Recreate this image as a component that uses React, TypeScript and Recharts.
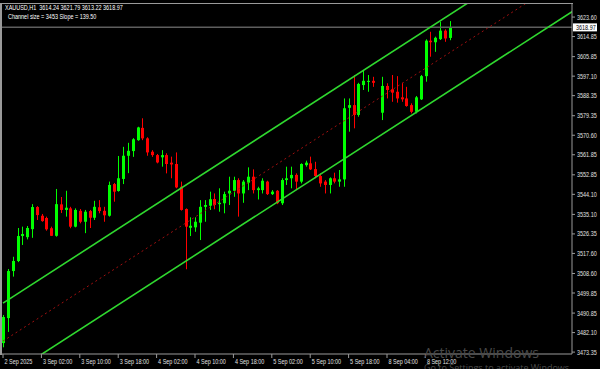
import React from 'react';
import { ComposedChart, Bar, XAxis, YAxis, ReferenceLine } from 'recharts';

// hourly bars, slot = position on the time axis (8 Sep 01:00 slot is empty)
const slots = [
  0, 1, 2, 3, 4, 5, 6, 7, 8, 9, 10, 11, 12, 13, 14, 15, 16, 17, 18, 19,
  20, 21, 22, 23, 24, 25, 26, 27, 28, 29, 30, 31, 32, 33, 34, 35, 36, 37, 38, 39,
  40, 41, 42, 43, 44, 45, 46, 47, 48, 49, 50, 51, 52, 53, 54, 55, 56, 57, 58, 59,
  60, 61, 62, 63, 64, 65, 66, 67, 68, 69, 70, 71, 72, 73, 74, 75, 76, 77,
  79, 80, 81, 82, 83, 84, 85, 86, 87, 88, 89, 90, 91, 92, 93,
];
const opens = [
  3477.4, 3488.6, 3509.7, 3514.2, 3525.4, 3524.9, 3528.5, 3538.4, 3534.5, 3533.5,
  3528.9, 3525.5, 3539.6, 3537.1, 3537.8, 3529.6, 3536.7, 3531.8, 3536.6, 3533.6,
  3538.3, 3536.7, 3534.5, 3548.7, 3545.6, 3551.0, 3561.4, 3563.5, 3568.4, 3573.9,
  3569.2, 3563.2, 3561.7, 3560.7, 3561.7, 3558.3, 3557.7, 3547.5, 3537.5, 3529.1,
  3529.3, 3531.4, 3538.5, 3539.0, 3542.0, 3539.7, 3540.1, 3544.5, 3545.7, 3550.5,
  3544.5, 3549.3, 3552.0, 3546.0, 3546.0, 3549.8, 3544.2, 3545.7, 3540.1, 3550.5,
  3551.3, 3552.8, 3549.8, 3557.2, 3558.0, 3555.4, 3552.3, 3549.8, 3548.3, 3551.3,
  3549.8, 3550.8, 3582.9, 3584.1, 3579.7, 3593.1, 3594.5, 3595.0,
  3580.7, 3592.7, 3591.2, 3590.1, 3587.6, 3587.1, 3584.1, 3581.1, 3586.7, 3597.1,
  3613.0, 3612.3, 3613.7, 3617.5, 3614.24,
];
const highs = [
  3490.0, 3510.6, 3516.1, 3529.0, 3529.6, 3529.9, 3539.7, 3538.8, 3535.3, 3534.1,
  3529.6, 3546.5, 3542.9, 3545.7, 3538.5, 3537.8, 3537.5, 3537.1, 3537.1, 3541.2,
  3541.5, 3538.5, 3549.8, 3549.2, 3561.3, 3565.4, 3567.2, 3569.3, 3574.4, 3578.2,
  3569.7, 3563.9, 3562.2, 3563.9, 3562.5, 3561.0, 3562.9, 3549.8, 3537.8, 3533.8,
  3533.8, 3541.5, 3541.5, 3545.3, 3544.5, 3546.8, 3545.3, 3552.0, 3552.0, 3551.3,
  3550.5, 3556.2, 3555.3, 3547.5, 3551.3, 3550.2, 3546.0, 3546.0, 3551.3, 3556.5,
  3556.5, 3553.5, 3558.0, 3559.2, 3561.0, 3558.7, 3553.5, 3550.5, 3551.7, 3553.8,
  3555.0, 3587.1, 3587.1, 3597.6, 3594.1, 3599.8, 3597.6, 3596.8,
  3596.8, 3593.9, 3597.6, 3597.1, 3594.1, 3592.3, 3584.9, 3588.2, 3597.6, 3613.6,
  3617.0, 3614.8, 3621.5, 3618.1, 3621.79,
];
const lows = [
  3475.5, 3482.4, 3507.2, 3513.7, 3521.4, 3523.9, 3524.6, 3532.6, 3531.8, 3527.8,
  3525.4, 3525.1, 3535.7, 3534.1, 3528.9, 3529.3, 3531.1, 3526.7, 3529.0, 3532.6,
  3535.6, 3531.8, 3534.1, 3540.8, 3545.3, 3548.7, 3553.6, 3560.9, 3568.1, 3568.4,
  3561.4, 3560.9, 3558.0, 3556.5, 3553.5, 3551.3, 3546.8, 3536.8, 3510.5, 3525.4,
  3527.3, 3523.6, 3531.8, 3537.1, 3537.4, 3536.3, 3535.6, 3539.3, 3543.0, 3534.1,
  3540.3, 3546.0, 3544.5, 3541.8, 3544.5, 3543.8, 3543.8, 3539.7, 3539.3, 3548.3,
  3546.8, 3546.0, 3549.0, 3556.5, 3555.0, 3551.3, 3547.5, 3544.5, 3544.5, 3549.0,
  3547.5, 3547.5, 3572.2, 3573.7, 3578.9, 3590.9, 3590.1, 3592.3,
  3577.4, 3587.1, 3585.6, 3585.2, 3585.6, 3583.4, 3580.4, 3580.4, 3586.4, 3594.6,
  3605.8, 3608.0, 3613.3, 3612.5, 3613.22,
];
const closes = [
  3489.1, 3509.7, 3514.2, 3525.4, 3526.3, 3529.0, 3538.4, 3534.8, 3532.1, 3528.4,
  3525.5, 3539.7, 3537.1, 3538.1, 3529.6, 3537.1, 3531.8, 3536.3, 3533.6, 3538.5,
  3536.6, 3534.7, 3548.3, 3545.3, 3551.3, 3561.4, 3563.6, 3568.8, 3574.1, 3569.2,
  3562.9, 3561.7, 3558.4, 3561.7, 3557.7, 3557.5, 3547.2, 3537.1, 3529.6, 3530.0,
  3531.8, 3538.5, 3539.3, 3541.9, 3539.3, 3540.3, 3544.2, 3545.7, 3550.5, 3544.5,
  3549.8, 3552.0, 3546.0, 3546.8, 3550.2, 3544.2, 3545.3, 3540.1, 3550.5, 3551.3,
  3552.8, 3549.8, 3557.7, 3558.3, 3555.3, 3552.3, 3549.0, 3548.3, 3551.3, 3549.8,
  3550.8, 3582.7, 3584.1, 3579.7, 3593.6, 3595.0, 3595.0, 3594.1,
  3592.7, 3590.9, 3589.7, 3587.1, 3586.7, 3583.7, 3581.1, 3587.6, 3597.1, 3613.0,
  3612.3, 3614.3, 3617.5, 3614.0, 3618.97,
];

const timeTicks = [0, 8, 16, 24, 32, 40, 48, 56, 64, 72, 80, 88];
const timeLabels = [
  '2 Sep 2025', '3 Sep 02:00', '3 Sep 10:00', '3 Sep 18:00', '4 Sep 02:00', '4 Sep 10:00',
  '4 Sep 18:00', '5 Sep 02:00', '5 Sep 10:00', '5 Sep 18:00', '8 Sep 04:00', '8 Sep 12:00',
];
const priceTicks = [
  3473.35, 3482.1, 3490.85, 3499.85, 3508.6, 3517.6, 3526.35, 3535.1, 3544.1,
  3552.85, 3561.85, 3570.6, 3579.35, 3588.35, 3597.1, 3605.85, 3614.85, 3623.6,
];
const lastPrice = 3618.97;

// regression channel: [start slot, end slot] and prices at those slots
const channelSlots = [0, 130];
const channelUpper = [3495.3, 3676.0];
const channelMiddle = [3478.3, 3659.0];
const channelLower = [3461.2, 3641.9];

const data = slots.map((slot, i) => ({
  slot,
  open: opens[i],
  high: highs[i],
  low: lows[i],
  close: closes[i],
}));

const FONT = "'Liberation Sans', Arial, sans-serif";
const SQUEEZE = 0.78;

const Candle = (props: any) => {
  const { x, y, width, height, payload } = props;
  if (!payload) return null;
  const { open, close, high, low } = payload;
  const top = Math.min(y, y + height);
  const h = Math.abs(height);
  const k = h / (high - low);
  const py = (v: number) => top + (high - v) * k;
  const color = close >= open ? '#00ff00' : '#ff0000';
  const cx = Math.round(x + width / 2) + 0.5;
  const bTop = py(Math.max(open, close));
  const bH = Math.max(1, py(Math.min(open, close)) - bTop);
  return (
    <g>
      <line x1={cx} x2={cx} y1={top} y2={top + h} stroke={color} strokeWidth={1} />
      <rect x={cx - 1.5} y={bTop} width={3} height={bH} fill={color} />
    </g>
  );
};

const SmallText = ({ x, y, children, fill = '#e0e0e0' }: any) => (
  <text
    transform={`translate(${x},${y}) scale(${SQUEEZE},1)`}
    fontSize={7}
    fill={fill}
    fontFamily={FONT}
  >
    {children}
  </text>
);

const TimeTick = (props: any) => {
  const { x, y, payload } = props;
  const label = timeLabels[timeTicks.indexOf(payload.value)];
  return (
    <g>
      <line x1={x} x2={x} y1={y} y2={y + 4} stroke="#9a9a9a" />
      <SmallText x={x + 1.5} y={y + 10}>{label}</SmallText>
    </g>
  );
};

const PriceTick = (props: any) => {
  const { x, y, payload } = props;
  return (
    <g>
      <line x1={x} x2={x + 3} y1={y} y2={y} stroke="#9a9a9a" />
      <SmallText x={x + 5} y={y + 2.5}>{Number(payload.value).toFixed(2)}</SmallText>
    </g>
  );
};

const PriceTag = (props: any) => {
  const { viewBox } = props;
  if (!viewBox) return null;
  const x = viewBox.x + viewBox.width + 1;
  const y = viewBox.y;
  return (
    <g>
      <rect x={x} y={y - 4} width={24} height={8} fill="#ffffff" />
      <SmallText x={x + 3} y={y + 2.5} fill="#000">{lastPrice.toFixed(2)}</SmallText>
    </g>
  );
};

const seg = (ys: number[]) => [
  { x: channelSlots[0], y: ys[0] },
  { x: channelSlots[1], y: ys[1] },
];

export default function App() {
  return (
    <div style={{ position: 'relative', width: 600, height: 369, background: '#000', overflow: 'hidden' }}>
      <style>{'body{margin:0}'}</style>
      <ComposedChart width={600} height={369} data={data} margin={{ top: 3, right: 0, bottom: 0, left: 2 }}>
        <XAxis
          dataKey="slot"
          type="number"
          domain={[-0.21, 118.54]}
          allowDataOverflow
          ticks={timeTicks}
          interval={0}
          tick={<TimeTick />}
          tickLine={false}
          tickSize={0}
          tickMargin={0}
          height={15}
          axisLine={{ stroke: '#9a9a9a' }}
        />
        <YAxis
          orientation="right"
          domain={[3472.5, 3629.9]}
          allowDataOverflow
          ticks={priceTicks}
          interval={0}
          tick={<PriceTick />}
          tickLine={false}
          tickSize={0}
          tickMargin={0}
          width={28}
          axisLine={{ stroke: '#9a9a9a' }}
        />
        <ReferenceLine y={lastPrice} stroke="#5e5e5e" strokeWidth={1.5} label={<PriceTag />} />
        <Bar
          dataKey={(d: any) => [d.low, d.high]}
          barSize={3}
          shape={(p: any) => <Candle {...p} />}
          isAnimationActive={false}
        />
        <ReferenceLine segment={seg(channelUpper)} stroke="#2fd82f" strokeWidth={1.6} ifOverflow="hidden" />
        <ReferenceLine segment={seg(channelLower)} stroke="#2fd82f" strokeWidth={1.6} ifOverflow="hidden" />
        <ReferenceLine
          segment={seg(channelMiddle)}
          stroke="#a01010"
          strokeWidth={1}
          strokeDasharray="2 3"
          ifOverflow="hidden"
        />
      </ComposedChart>
      <div
        style={{
          position: 'absolute', left: 0, top: 3, width: 573, height: 352, boxSizing: 'border-box',
          borderTop: '1px solid #9a9a9a', borderLeft: '2px solid #9a9a9a', pointerEvents: 'none',
        }}
      />
      <div
        style={{
          position: 'absolute', left: 5, top: 3, fontFamily: FONT, fontSize: 7, color: '#fff',
          lineHeight: '9px', whiteSpace: 'pre', transform: `scaleX(${SQUEEZE})`, transformOrigin: '0 0',
        }}
      >
        {'XAUUSD,H1  3614.24 3621.79 3613.22 3618.97'}
        <br />
        {'  Channel size = 3453 Slope = 139.50'}
      </div>
      <div style={{ position: 'absolute', left: 424, top: 343, fontFamily: "'Open Sans', 'Noto Sans', sans-serif", fontSize: 14, color: '#4a4a4a', whiteSpace: 'nowrap' }}>
        Activate Windows
      </div>
      <div style={{ position: 'absolute', left: 424, top: 361, fontFamily: "'Open Sans', 'Noto Sans', sans-serif", fontSize: 9, color: '#4a4a4a', whiteSpace: 'nowrap' }}>
        Go to Settings to activate Windows.
      </div>
    </div>
  );
}
